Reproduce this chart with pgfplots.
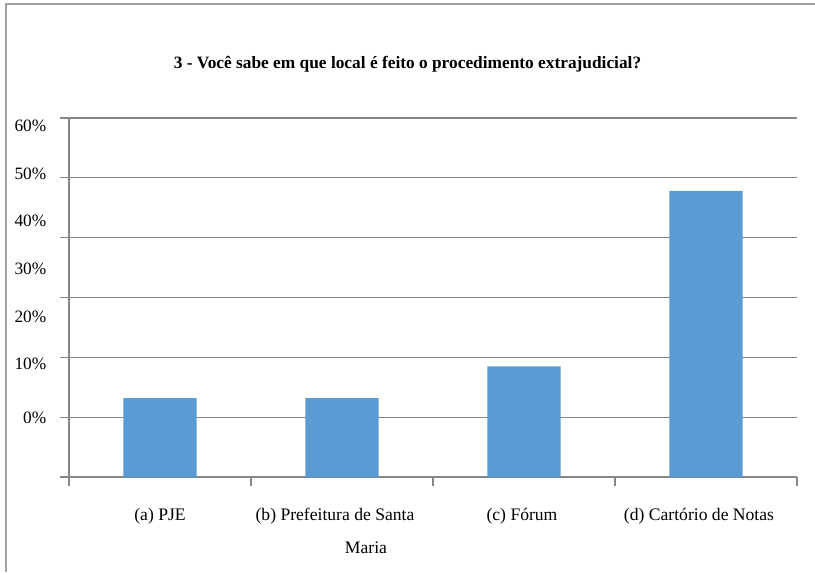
\documentclass[border=0pt]{standalone}
\usepackage{fontspec}
\setmainfont{Liberation Serif}
\usepackage{pgfplots}
\pgfplotsset{compat=1.18}
\definecolor{barblue}{RGB}{91,155,213}
\definecolor{gridgray}{RGB}{134,134,134}
\definecolor{framegray}{RGB}{160,160,160}
\begin{document}
\begin{tikzpicture}
\useasboundingbox (0,0) rectangle (611.25pt,429pt);
\fill[white] (0,0) rectangle (611.25pt,429pt);
\draw[framegray, line width=1.5pt] (4.5pt,0) -- (4.5pt,426pt) -- (612pt,426pt);
\begin{axis}[
  at={(51.75pt,71.25pt)}, anchor=south west,
  scale only axis, width=546pt, height=269.25pt,
  xmin=0, xmax=4, ymin=0, ymax=60,
  xtick={0,1,2,3,4}, xticklabels={},
  ytick={0,10,20,30,40,50,60}, yticklabels={},
  axis x line*=bottom, axis y line*=left,
  axis line style={gridgray, line width=0.8pt, -},
  tick style={gridgray, line width=0.8pt},
  tick align=outside, major tick length=6.5pt,
  ymajorgrids, grid style={gridgray, line width=0.8pt},
  clip=false,
]
\addplot[ybar, bar width=54.75pt, fill=barblue, draw=none]
  coordinates {(0.5,13.2) (1.5,13.2) (2.5,18.5) (3.5,47.8)};
\end{axis}
\node[font=\bfseries\fontsize{13}{15}\selectfont] at (305.6pt,381pt) {3 - Você sabe em que local é feito o procedimento extrajudicial?};
\begin{scope}[every node/.style={font=\fontsize{13}{15}\selectfont, anchor=east}]
\node at (38.25pt,334.5pt) {60\%};
\node at (38.25pt,298.5pt) {50\%};
\node at (38.25pt,263.25pt) {40\%};
\node at (38.25pt,227.25pt) {30\%};
\node at (38.25pt,191.25pt) {20\%};
\node at (38.25pt,156pt) {10\%};
\node at (38.25pt,115.5pt) {0\%};
\end{scope}
\begin{scope}[every node/.style={font=\fontsize{13.2}{15}\selectfont}]
\node at (120pt,42pt) {(a) PJE};
\node at (251.25pt,42pt) {(b) Prefeitura de Santa};
\node at (274.5pt,18pt) {Maria};
\node at (391.5pt,42pt) {(c) Fórum};
\node at (524.25pt,42pt) {(d) Cartório de Notas};
\end{scope}
\end{tikzpicture}
\end{document}
